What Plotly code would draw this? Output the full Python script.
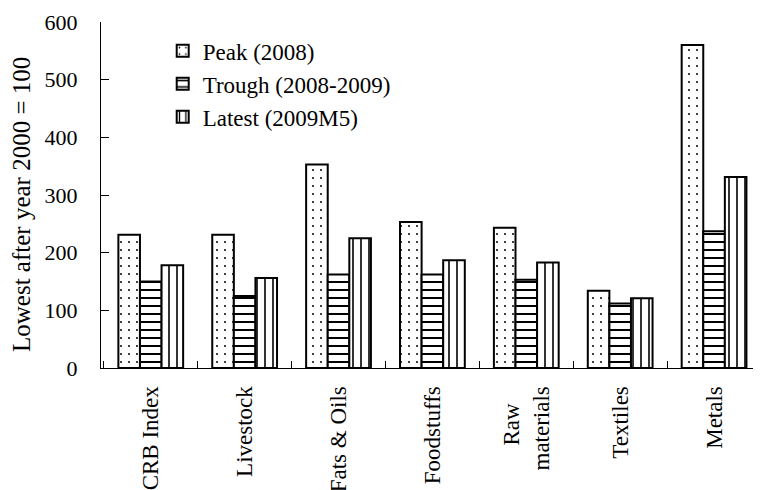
import plotly.graph_objects as go

# ---- data ----
categories = ["CRB Index", "Livestock", "Fats & Oils", "Foodstuffs",
              "Raw materials", "Textiles", "Metals"]
tick_labels = ["CRB Index", "Livestock", "Fats & Oils", "Foodstuffs",
               "Raw\u00a0\u00a0\u00a0<br>materials", "Textiles", "Metals"]
peak_2008 = [231, 231, 353, 253, 243, 134, 560]
trough_2008_2009 = [150, 125, 162, 162, 153, 112, 237]
latest_2009m5 = [178, 156, 225, 187, 183, 121, 331]
series_names = ["Peak (2008)", "Trough (2008-2009)", "Latest (2009M5)"]
y_ticks = [0, 100, 200, 300, 400, 500, 600]
y_title = "Lowest after year 2000 = 100"

FONT = "Times New Roman"

patterns = [
    dict(shape=".", size=8, solidity=0.05),
    dict(shape="-", size=8, solidity=0.25),
    dict(shape="|", size=8, solidity=0.2),
]

fig = go.Figure()
for name, vals, pat in zip(series_names,
                           [peak_2008, trough_2008_2009, latest_2009m5],
                           patterns):
    fig.add_trace(go.Bar(
        name=name, x=categories, y=vals, legendgroup=name,
        marker=dict(color="white",
                    line=dict(color="black", width=2),
                    pattern=dict(fgcolor="black", bgcolor="white",
                                 fillmode="replace", **pat)),
    ))

# page body has an 8px default margin -> offsets compensated below
fig.update_layout(
    template="none",
    width=761, height=490,
    margin=dict(l=93, r=8, t=14, b=130, pad=0, autoexpand=False),
    paper_bgcolor="white", plot_bgcolor="white",
    font=dict(family=FONT, size=22, color="black"),
    barmode="group", bargap=0.31, bargroupgap=0,
    showlegend=True,
    legend=dict(x=0.0935, y=0.9786, xanchor="left", yanchor="top",
                bgcolor="rgba(0,0,0,0)", borderwidth=0,
                tracegroupgap=0,
                font=dict(family=FONT, size=23, color="black")),
    xaxis=dict(type="category", range=[-0.53, 6.5], automargin=False,
               tickvals=categories, ticktext=tick_labels,
               tickangle=-90, tickfont=dict(family=FONT, size=23),
               showline=True, linecolor="black", linewidth=1,
               ticks="inside", tickson="boundaries", ticklen=7,
               tickcolor="black", tickwidth=1,
               ticklabelstandoff=8,
               showgrid=False, zeroline=False, fixedrange=True),
    yaxis=dict(range=[0, 600], tickvals=y_ticks, automargin=False,
               tickfont=dict(family=FONT, size=22),
               showline=True, linecolor="black", linewidth=1,
               ticks="inside", ticklen=8, tickcolor="black", tickwidth=1,
               ticklabelstandoff=18,
               showgrid=False, zeroline=False, fixedrange=True),
    annotations=[dict(text=y_title, textangle=-90, xref="paper", yref="paper",
                      x=-0.1197, y=0.474, xanchor="center", yanchor="middle",
                      showarrow=False, font=dict(family=FONT, size=25))],
)

fig.write_html("out.html")
